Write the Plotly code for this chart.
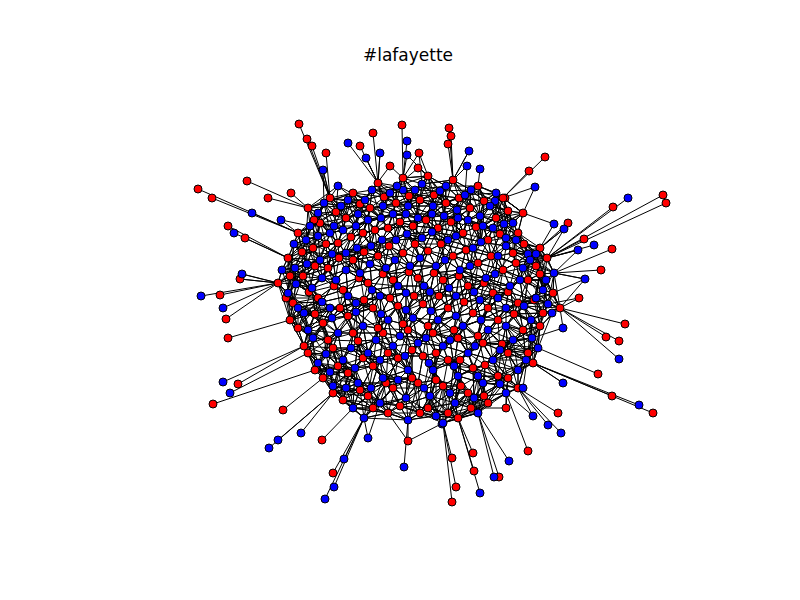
import plotly.graph_objects as go

# node positions, in pixel space (x right, y down)
outer_red = [(291,116),(299,131),(304,138),(318,145),(190,181),(204,190),(220,218),(239,173),
             (260,190),(283,185),(394,117),(411,145),(410,160),(441,120),(443,128),(440,136),
             (537,149),(521,163),(576,231),(604,241),(593,262),(605,199),(655,187),(658,195),
             (611,333),(617,316),(598,329),(645,405),(604,388),(590,366),(520,443),(491,469),
             (466,463),(448,479),(444,494),(325,465),(314,432),(275,402),(205,396),(230,376),
             (220,330),(218,311),(212,287),(232,271),(237,230),(365,125),(352,138),(382,158),
             (497,190),(560,215),(571,290),(550,405),(498,400),(444,450),(465,445),(400,433)]
outer_blue = [(340,135),(399,133),(399,147),(461,143),(459,158),(472,161),(527,179),(487,193),
              (620,190),(556,221),(586,237),(577,271),(570,242),(611,351),(631,397),(555,375),
              (540,417),(553,425),(525,408),(501,453),(472,485),(486,469),(434,416),(396,459),
              (317,491),(326,479),(336,451),(293,425),(270,432),(261,440),(222,385),(215,374),
              (193,288),(215,300),(234,266),(226,225),(244,205),(273,212),(315,162),(358,150),
              (372,145),(330,178),(395,182),(546,216),(544,305),(555,320),(515,380),(360,430)]
core_red = [(300,200),(322,190),(345,185),(370,175),(395,170),(420,168),(445,172),(470,178),
            (495,190),(515,205),(290,225),(312,215),(338,210),(362,200),(388,195),(412,192),
            (438,195),(462,200),(488,210),(510,225),(532,240),(280,250),(305,240),(330,235),
            (355,225),(380,220),(405,218),(430,220),(455,225),(480,232),(505,245),(528,258),
            (270,275),(295,268),(320,260),(345,252),(370,248),(395,245),(420,243),(445,248),
            (470,255),(495,262),(520,272),(545,285),(285,295),(310,290),(335,282),(360,275),
            (385,272),(410,270),(435,272),(460,278),(485,285),(510,295),(535,305),(290,320),
            (315,315),(340,308),(365,300),(390,298),(415,296),(440,300),(465,305),(490,312),
            (515,322),(300,345),(325,340),(350,333),(375,325),(400,322),(425,325),(450,330),
            (475,335),(500,345),(525,355),(315,370),(340,365),(365,358),(390,350),(415,348),
            (440,352),(465,360),(490,368),(510,380),(335,392),(360,388),(385,380),(410,375),
            (435,378),(460,385),(480,395),(380,405),(420,400),(450,410),
            (306,212),(328,204),(352,196),(376,189),(401,188),(426,187),(451,190),(476,193),
            (500,203),(294,244),(318,236),(343,229),(367,222),(392,214),(418,212),(443,214),
            (468,219),(492,226),(516,236),(539,250),(282,268),(307,258),(331,250),(356,244),
            (381,238),(407,236),(433,236),(458,242),(483,248),(508,255),(532,266),(278,290),
            (301,284),(326,278),(351,270),(375,266),(401,264),(426,265),(451,268),(476,275),
            (500,284),(526,292),(552,300),(282,312),(307,306),(332,300),(356,292),(382,290),
            (406,288),(431,288),(456,294),(480,300),(506,306),(532,318),(296,338),(320,332),
            (345,325),(370,320),(395,316),(420,318),(446,322),(470,328),(494,336),(520,345),
            (307,362),(330,358),(355,350),(380,345),(404,342),(428,345),(452,352),(477,357),
            (500,370),(325,385),(352,382),(378,375),(404,370),(428,372),(453,378),(476,388),
            (365,400),(392,398),(412,405),(440,405),(463,400)]
core_blue = [(310,205),(333,198),(357,192),(382,185),(407,182),(432,183),(457,187),(482,198),
             (505,215),(298,232),(322,225),(348,218),(373,210),(398,206),(424,206),(450,210),
             (475,218),(498,230),(520,246),(287,260),(312,252),(338,245),(363,238),(388,232),
             (414,230),(440,232),(465,240),(490,248),(515,260),(538,272),(280,285),(304,280),
             (328,272),(352,265),(378,260),(402,258),(428,258),(452,262),(478,270),(502,278),
             (528,290),(296,305),(322,300),(348,295),(372,288),(398,285),(422,284),(448,288),
             (472,292),(498,300),(523,312),(305,330),(330,325),(355,318),(380,312),(405,310),
             (430,312),(455,318),(480,322),(505,332),(530,340),(310,355),(335,352),(360,345),
             (385,338),(410,335),(435,338),(460,345),(485,352),(510,362),(325,378),(350,375),
             (375,370),(400,362),(425,362),(450,368),(475,375),(498,385),(345,400),(372,395),
             (398,390),(422,388),(447,395),(470,405),(400,412),(435,415),
             (316,195),(340,192),(364,182),(389,178),(414,176),(438,178),(463,182),(488,185),
             (302,218),(326,218),(350,206),(375,198),(400,198),(425,198),(449,202),(472,208),
             (496,216),(286,236),(310,228),(335,222),(360,212),(385,206),(410,210),(436,208),
             (460,212),(485,220),(508,232),(528,246),(274,262),(299,256),(324,246),(349,240),
             (374,232),(399,226),(424,224),(448,228),(473,234),(498,238),(522,252),(546,265),
             (288,276),(314,270),(338,262),(362,256),(387,252),(412,250),(437,252),(462,258),
             (487,266),(512,272),(535,282),(290,300),(314,294),(340,288),(364,282),(390,278),
             (416,278),(441,280),(466,284),(490,290),(516,298),(540,296),(300,322),(324,310),
             (348,304),(373,306),(398,302),(423,303),(448,308),(473,312),(498,318),(524,330),
             (318,346),(343,340),(368,332),(392,328),(418,330),(442,332),(467,338),(492,342),
             (518,352),(322,364),(347,360),(372,352),(397,348),(421,355),(446,358),(470,368),
             (492,376),(338,380),(363,380),(390,372),(416,380),(442,385),(466,390),(356,410),
             (428,408)]

core = core_red + core_blue
allnodes = outer_red + outer_blue + core


def nearest(p, pts, k):
    d = sorted(pts, key=lambda q: (q[0] - p[0]) ** 2 + (q[1] - p[1]) ** 2)
    return [q for q in d if q != p][:k]


ex, ey = [], []
for p in outer_red + outer_blue:
    for q in nearest(p, core, 1):
        ex += [p[0], q[0], None]
        ey += [p[1], q[1], None]
for p in core:
    for q in nearest(p, core, 6):
        ex += [p[0], q[0], None]
        ey += [p[1], q[1], None]
    for q in nearest(p, allnodes, 20)[12:16]:
        ex += [p[0], q[0], None]
        ey += [p[1], q[1], None]

fig = go.Figure()
fig.add_trace(go.Scatter(x=ex, y=ey, mode="lines", line=dict(color="black", width=1),
                         hoverinfo="skip"))
for pts, col in [(outer_red + core_red, "#ff0000"), (outer_blue + core_blue, "#0000ff")]:
    fig.add_trace(go.Scatter(
        x=[p[0] for p in pts], y=[p[1] for p in pts], mode="markers",
        marker=dict(color=col, size=8, line=dict(color="black", width=1)),
    ))

fig.update_layout(
    width=800, height=600, margin=dict(l=0, r=0, t=0, b=0),
    paper_bgcolor="white", plot_bgcolor="white", showlegend=False,
    title=dict(text="#lafayette", x=0.5, y=1 - 47 / 600, xanchor="center", yanchor="middle",
               yref="paper",
               font=dict(family="DejaVu Sans", size=17, color="black")),
    xaxis=dict(range=[0, 800], visible=False),
    yaxis=dict(range=[600, 0], visible=False),
)

fig.write_html("out.html")
